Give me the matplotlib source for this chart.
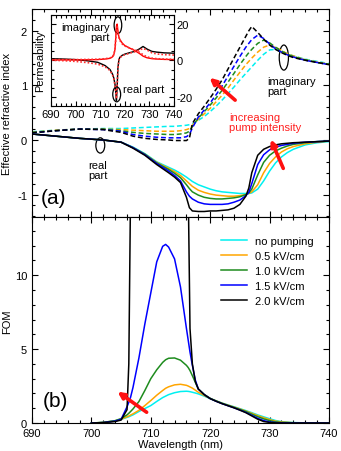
import matplotlib
matplotlib.use('Agg')
import matplotlib.pyplot as plt
from matplotlib.patches import Ellipse
from matplotlib.ticker import MultipleLocator

plt.rcParams['font.family'] = ['Liberation Sans', 'DejaVu Sans']
plt.rcParams['font.size'] = 8

# ---------------- data ----------------
LABELS = ['no pumping', '0.5 kV/cm', '1.0 kV/cm', '1.5 kV/cm', '2.0 kV/cm']
COLORS = ['#00f0f0', '#ffa500', '#1e8c1e', '#0000ff', '#000000']

# panel (a): effective refractive index
wl_a = [690, 694, 698, 702, 705, 707, 709, 711, 713, 714, 715, 716, 716.5, 717,
        718, 719, 720, 721, 722, 723, 724, 725, 726, 726.5, 727, 728, 729, 730,
        731, 732, 733, 734, 736, 738, 740]

n_real = [
    # no pumping
    [0.11, 0.07, 0.03, 0.0, -0.04, -0.13, -0.25, -0.4, -0.5, -0.55, -0.61, -0.68, -0.72, -0.76,
     -0.82, -0.86, -0.9, -0.93, -0.95, -0.96, -0.97, -0.98, -0.98, -0.98, -0.97, -0.9, -0.75, -0.57,
     -0.42, -0.31, -0.23, -0.17, -0.09, -0.05, -0.03],
    # 0.5 kV/cm
    [0.11, 0.07, 0.03, 0.0, -0.04, -0.14, -0.26, -0.41, -0.52, -0.58, -0.65, -0.75, -0.8, -0.85,
     -0.92, -0.96, -0.99, -1.01, -1.02, -1.03, -1.03, -1.02, -1.0, -0.98, -0.95, -0.82, -0.6, -0.43,
     -0.31, -0.22, -0.16, -0.12, -0.07, -0.04, -0.02],
    # 1.0 kV/cm
    [0.11, 0.07, 0.03, 0.0, -0.04, -0.14, -0.26, -0.42, -0.54, -0.61, -0.69, -0.82, -0.89, -0.95,
     -1.01, -1.05, -1.07, -1.08, -1.08, -1.07, -1.06, -1.04, -1.0, -0.97, -0.9, -0.64, -0.41, -0.28,
     -0.2, -0.15, -0.11, -0.08, -0.05, -0.03, -0.02],
    # 1.5 kV/cm
    [0.11, 0.07, 0.03, 0.0, -0.04, -0.14, -0.27, -0.43, -0.57, -0.65, -0.75, -0.95, -1.03, -1.08,
     -1.14, -1.17, -1.18, -1.18, -1.18, -1.17, -1.14, -1.1, -1.02, -0.96, -0.8, -0.45, -0.27, -0.18,
     -0.13, -0.1, -0.08, -0.06, -0.04, -0.03, -0.02],
    # 2.0 kV/cm
    [0.11, 0.07, 0.03, 0.0, -0.04, -0.15, -0.28, -0.45, -0.6, -0.68, -0.78, -1.05, -1.24, -1.3,
     -1.31, -1.31, -1.3, -1.3, -1.29, -1.28, -1.25, -1.18, -1.03, -0.88, -0.6, -0.28, -0.17, -0.12,
     -0.09, -0.07, -0.06, -0.05, -0.04, -0.03, -0.02],
]

n_imag = [
    [0.15, 0.18, 0.2, 0.21, 0.21, 0.22, 0.23, 0.24, 0.25, 0.25, 0.26, 0.27, 0.28, 0.29,
     0.36, 0.43, 0.52, 0.62, 0.73, 0.85, 0.97, 1.1, 1.22, 1.28, 1.34, 1.46, 1.57, 1.65,
     1.66, 1.62, 1.58, 1.54, 1.48, 1.44, 1.4],
    [0.14, 0.18, 0.2, 0.2, 0.19, 0.18, 0.17, 0.16, 0.16, 0.16, 0.17, 0.19, 0.21, 0.27,
     0.38, 0.48, 0.58, 0.7, 0.82, 0.95, 1.1, 1.24, 1.38, 1.44, 1.5, 1.61, 1.7, 1.74,
     1.7, 1.64, 1.58, 1.54, 1.47, 1.43, 1.39],
    [0.14, 0.17, 0.2, 0.2, 0.17, 0.14, 0.12, 0.11, 0.1, 0.1, 0.11, 0.13, 0.16, 0.25,
     0.4, 0.52, 0.64, 0.77, 0.91, 1.06, 1.22, 1.38, 1.53, 1.6, 1.66, 1.77, 1.83, 1.78,
     1.7, 1.63, 1.57, 1.53, 1.47, 1.42, 1.39],
    [0.13, 0.17, 0.2, 0.19, 0.16, 0.1, 0.07, 0.05, 0.04, 0.04, 0.04, 0.06, 0.1, 0.22,
     0.42, 0.55, 0.68, 0.83, 0.99, 1.17, 1.35, 1.53, 1.7, 1.77, 1.84, 1.92, 1.86, 1.76,
     1.67, 1.61, 1.56, 1.52, 1.46, 1.42, 1.38],
    [0.13, 0.17, 0.2, 0.19, 0.14, 0.07, 0.03, 0.01, 0.0, -0.01, -0.01, -0.01, 0.03, 0.3,
     0.48, 0.62, 0.77, 0.93, 1.1, 1.3, 1.5, 1.7, 1.9, 2.0, 2.08, 1.97, 1.85, 1.74,
     1.66, 1.6, 1.55, 1.51, 1.46, 1.42, 1.38],
]

# panel (b): figure of merit
wl_b = [700, 702, 704, 705, 706, 706.3, 706.6, 707, 708, 709, 710, 711, 712, 712.5,
        713, 714, 715, 716, 716.3, 716.6, 717, 717.5, 718, 719, 720, 721, 722, 723,
        724, 725, 726, 727, 728, 729, 730, 731, 732, 734, 736, 740]

fom = [
    [0, 0.04, 0.15, 0.25, 0.38, 0.42, 0.48, 0.55, 0.78, 0.98, 1.18, 1.46, 1.72, 1.82,
     1.92, 2.05, 2.13, 2.15, 2.14, 2.12, 2.08, 2.03, 1.97, 1.82, 1.65, 1.5, 1.35, 1.22,
     1.1, 0.97, 0.84, 0.7, 0.55, 0.42, 0.29, 0.17, 0.09, 0.03, 0.01, 0.0],
    [0, 0.04, 0.15, 0.26, 0.42, 0.47, 0.54, 0.62, 0.86, 1.18, 1.52, 1.88, 2.2, 2.35,
     2.45, 2.58, 2.62, 2.55, 2.5, 2.44, 2.36, 2.22, 2.08, 1.86, 1.66, 1.5, 1.34, 1.21,
     1.08, 0.95, 0.81, 0.66, 0.5, 0.36, 0.23, 0.13, 0.07, 0.02, 0.0, 0.0],
    [0, 0.04, 0.16, 0.3, 0.55, 0.66, 0.78, 0.95, 1.45, 2.2, 3.0, 3.6, 4.1, 4.28,
     4.38, 4.4, 4.25, 3.9, 3.75, 3.55, 3.2, 2.75, 2.3, 1.93, 1.67, 1.49, 1.33, 1.19,
     1.06, 0.92, 0.78, 0.6, 0.43, 0.28, 0.16, 0.08, 0.04, 0.01, 0.0, 0.0],
    [0, 0.03, 0.13, 0.25, 1.1, 1.4, 1.75, 2.4, 4.4, 6.7, 8.8, 10.9, 11.95, 12.08,
     11.9, 11.1, 9.2, 6.4, 5.6, 4.8, 3.9, 2.9, 2.3, 1.92, 1.65, 1.47, 1.31, 1.17,
     1.03, 0.88, 0.72, 0.52, 0.32, 0.16, 0.07, 0.03, 0.01, 0.0, 0.0, 0.0],
    [0, 0.03, 0.1, 0.2, 0.9, 4.0, 16, 30, 45, 55, 60, 62, 62, 60,
     58, 50, 40, 25, 16, 6.4, 4.0, 2.8, 2.3, 1.92, 1.65, 1.47, 1.31, 1.17,
     1.03, 0.87, 0.7, 0.48, 0.26, 0.1, 0.04, 0.01, 0.0, 0.0, 0.0, 0.0],
]

# inset: permeability
wl_i = [690, 695, 700, 705, 709, 712, 714, 715, 715.5, 716, 716.3, 716.6, 716.9, 717.2,
        717.6, 718, 719, 720, 722, 724, 726, 727.4, 729, 731, 733, 736, 740]
mu_real = [1.0, 0.8, 0.5, -0.2, -1.0, -2.8, -5.0, -7.5, -9.5, -13, -17, -22, -14, -4,
           0.5, 1.8, 2.9, 3.5, 4.3, 5.0, 6.4, 7.7, 6.3, 5.0, 4.6, 4.2, 4.0]
mu_real_fit = [0.2, -0.1, -0.5, -1.2, -2.0, -3.5, -5.5, -8, -10, -13.5, -17, -21, -13, -4.5,
               0.0, 1.5, 2.6, 3.2, 4.0, 4.8, 5.8, 6.6, 5.8, 4.2, 3.6, 3.2, 3.0]
mu_imag = [0.3, 0.3, 0.3, 0.4, 0.5, 0.8, 1.2, 2.0, 3.0, 6, 12, 19, 20, 16,
           13, 11.5, 9.5, 8.2, 6.8, 5.5, 3.8, 2.4, 1.5, 1.0, 0.8, 0.6, 0.5]
mu_imag_fit = [0.5, 0.5, 0.5, 0.6, 0.7, 1.0, 1.4, 2.2, 3.2, 6, 11, 17, 18.5, 15,
               12.5, 11, 9, 8, 6.8, 5.8, 4.5, 3.2, 2.0, 1.3, 1.0, 0.8, 0.6]


def style_axes(ax, xminor, ymajor, yminor):
    ax.xaxis.set_major_locator(MultipleLocator(10))
    ax.xaxis.set_minor_locator(MultipleLocator(xminor))
    ax.yaxis.set_major_locator(MultipleLocator(ymajor))
    ax.yaxis.set_minor_locator(MultipleLocator(yminor))
    ax.tick_params(which='both', direction='in', top=True, right=True, width=0.8)
    ax.tick_params(which='major', length=4.5)
    ax.tick_params(which='minor', length=2.5)


fig = plt.figure(figsize=(3.41, 4.52), dpi=100)

# ---------------- panel (a) ----------------
ax_a = fig.add_axes([0.0938, 0.5166, 0.871, 0.4613])
for k in range(5):
    ax_a.plot(wl_a, n_imag[k], color=COLORS[k], lw=1.1, ls=(0, (3.2, 1.8)))
for k in range(5):
    ax_a.plot(wl_a, n_real[k], color=COLORS[k], lw=1.1)
ax_a.set_xlim(690, 740)
ax_a.set_ylim(-1.42, 2.4)
style_axes(ax_a, 2, 1, 0.2)
ax_a.set_yticks([-1, 0, 1, 2])
ax_a.set_yticklabels(['-1', '0', '1', '2'])
ax_a.tick_params(labelbottom=False, labelsize=8)
ax_a.set_ylabel('Effective refractive index', fontsize=8)
ax_a.yaxis.set_label_coords(-0.068, 0.5)

ax_a.text(693.7, -1.05, '(a)', fontsize=15, ha='center', va='center')
ax_a.add_patch(Ellipse((701.5, -0.1), 1.5, 0.28, fill=False, lw=0.9, color='k'))
ax_a.add_patch(Ellipse((732.4, 1.51), 1.55, 0.46, fill=False, lw=0.9, color='k'))
ax_a.text(701.1, -0.55, 'real\npart', ha='center', va='center', fontsize=8, linespacing=1.0)
ax_a.text(729.6, 0.99, 'imaginary\npart', ha='left', va='center', fontsize=8, linespacing=1.0)
ax_a.text(723.2, 0.33, 'increasing\npump intensity', ha='left', va='center', fontsize=8,
          color='#ff2020', linespacing=1.0)
arrow = dict(arrowstyle='-|>', color='#ff1010', lw=2.6, mutation_scale=9, shrinkA=0, shrinkB=0)
ax_a.annotate('', xy=(719.9, 1.14), xytext=(724.2, 0.73), arrowprops=arrow)
ax_a.annotate('', xy=(730.2, 0.01), xytext=(732.3, -0.52), arrowprops=arrow)

# ---------------- inset ----------------
ax_i = fig.add_axes([0.1496, 0.7633, 0.3607, 0.2013])
ax_i.plot(wl_i, mu_real, color='k', lw=1.0)
ax_i.plot(wl_i, mu_imag, color='#ff0000', lw=1.0)
ax_i.plot(wl_i, mu_real_fit, color='#ff3030', lw=1.2, ls=(0, (1, 1.2)))
ax_i.plot(wl_i, mu_imag_fit, color='#ff3030', lw=1.2, ls=(0, (1, 1.2)))
ax_i.set_xlim(690, 740)
ax_i.set_ylim(-25, 25)
style_axes(ax_i, 2, 20, 5)
ax_i.tick_params(which='major', length=3.5)
ax_i.tick_params(which='minor', length=2)
ax_i.tick_params(labelleft=False, labelright=True, labelsize=8, pad=2)
ax_i.set_yticks([-20, 0, 20])
ax_i.set_yticklabels(['-20', '0', '20'])
ax_i.set_ylabel('Permeability', fontsize=8)
ax_i.yaxis.set_label_coords(-0.045, 0.5)
ax_i.add_patch(Ellipse((717.2, 19.4), 3.1, 9.2, fill=False, lw=0.9, color='k'))
ax_i.add_patch(Ellipse((716.7, -18.6), 3.2, 8.2, fill=False, lw=0.9, color='k'))
ax_i.text(714.0, 15.5, 'imaginary\npart', ha='right', va='center', fontsize=8, linespacing=1.0)
ax_i.text(719.1, -15.4, 'real part', ha='left', va='center', fontsize=8)

# ---------------- panel (b) ----------------
ax_b = fig.add_axes([0.0938, 0.0619, 0.871, 0.4547])
for k in range(5):
    ax_b.plot(wl_b, fom[k], color=COLORS[k], lw=1.1, label=LABELS[k])
ax_b.set_xlim(690, 740)
ax_b.set_ylim(0, 13.9)
style_axes(ax_b, 2, 5, 1)
ax_b.tick_params(labelsize=8)
ax_b.set_ylabel('FOM', fontsize=8)
ax_b.yaxis.set_label_coords(-0.068, 0.5)
ax_b.set_xlabel('Wavelength (nm)', fontsize=8, labelpad=1)
ax_b.text(691.8, 1.5, '(b)', fontsize=15, ha='left', va='center')
ax_b.annotate('', xy=(704.4, 2.12), xytext=(709.3, 0.73), arrowprops=arrow)
ax_b.legend(loc='upper left', bbox_to_anchor=(0.62, 0.93), frameon=False, fontsize=8,
            handlelength=2.4, handletextpad=0.7, labelspacing=0.45, borderaxespad=0)

fig.savefig('out.png', dpi=100)
